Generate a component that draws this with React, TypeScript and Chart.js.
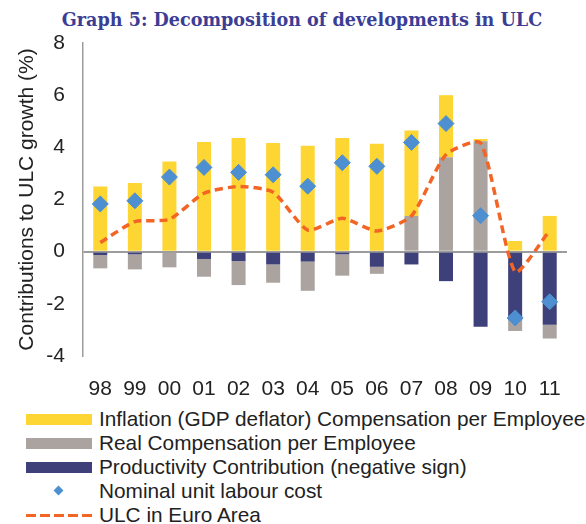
import React, { useEffect, useRef } from "react";
import { Chart, registerables } from "chart.js";

Chart.register(...registerables);

const years = ["98", "99", "00", "01", "02", "03", "04", "05", "06", "07", "08", "09", "10", "11"];
const inflation = [2.5, 2.63, 3.46, 4.2, 4.36, 4.17, 4.06, 4.36, 4.14, 3.28, 2.38, 0.09, 0.41, 1.37];
const realComp = [-0.51, -0.58, -0.6, -0.68, -0.92, -0.7, -1.12, -0.82, -0.27, 1.37, 3.62, 4.23, -0.41, -0.53];
const productivity = [-0.13, -0.1, 0, -0.28, -0.36, -0.49, -0.38, -0.1, -0.58, -0.49, -1.13, -2.88, -2.63, -2.8];
const nominalULC = [1.83, 1.95, 2.86, 3.23, 3.04, 2.95, 2.51, 3.41, 3.27, 4.19, 4.91, 1.38, -2.54, -1.92];
const euroAreaULC = [0.35, 1.15, 1.24, 2.24, 2.5, 2.28, 0.83, 1.28, 0.79, 1.37, 3.72, 4.17, -0.77, 0.81];
const yTicks = [8, 6, 4, 2, 0, -2, -4];

const YELLOW = "#fed634";
const GRAY = "#aaa39f";
const NAVY = "#3d4079";
const BLUE = "#4d8fd0";
const ORANGE = "#f26525";
const TEXT = "#222222";

const legendItems = [
  { label: "Inflation (GDP deflator) Compensation per Employee", kind: "box", color: YELLOW },
  { label: "Real Compensation per Employee", kind: "box", color: GRAY },
  { label: "Productivity Contribution (negative sign)", kind: "box", color: NAVY },
  { label: "Nominal unit labour cost", kind: "diamond", color: BLUE },
  { label: "ULC in Euro Area", kind: "dash", color: ORANGE },
];

export default function App() {
  const ref = useRef<HTMLCanvasElement | null>(null);

  useEffect(() => {
    document.body.style.margin = "0";
    const font = { family: "'Liberation Sans', Arial, sans-serif", size: 21 };
    const chart = new Chart(ref.current as HTMLCanvasElement, {
      type: "bar",
      data: {
        labels: years,
        datasets: [
          {
            type: "line",
            label: "Nominal unit labour cost",
            data: nominalULC,
            showLine: false,
            pointStyle: "rectRot",
            pointRadius: 8,
            pointBackgroundColor: BLUE,
            pointBorderColor: BLUE,
            borderColor: BLUE,
            backgroundColor: BLUE,
            stack: "nulc",
            order: 0,
          } as any,
          {
            type: "line",
            label: "ULC in Euro Area",
            data: euroAreaULC,
            borderColor: ORANGE,
            borderWidth: 3.5,
            borderDash: [8, 5],
            pointRadius: 0,
            tension: 0.2,
            fill: false,
            stack: "ulc",
            order: 1,
          } as any,
          {
            label: "Productivity Contribution (negative sign)",
            data: productivity,
            backgroundColor: NAVY,
            stack: "bars",
            order: 5,
          },
          {
            label: "Real Compensation per Employee",
            data: realComp,
            backgroundColor: GRAY,
            stack: "bars",
            order: 5,
          },
          {
            label: "Inflation (GDP deflator) Compensation per Employee",
            data: inflation,
            backgroundColor: YELLOW,
            stack: "bars",
            order: 5,
          },
        ],
      },
      options: {
        animation: false,
        responsive: false,
        maintainAspectRatio: false,
        datasets: {
          bar: { barPercentage: 0.405, categoryPercentage: 1 },
        },
        layout: { padding: { top: 43, right: 19, bottom: 5, left: 0 } },
        plugins: {
          legend: { display: false },
          tooltip: { enabled: false },
          title: { display: false },
        },
        scales: {
          x: {
            stacked: true,
            grid: { display: false },
            border: { display: false },
            ticks: { font, color: TEXT, padding: 13, maxRotation: 0 },
            afterFit: (s: any) => {
              s.height = 39;
            },
          },
          y: {
            stacked: true,
            min: -4,
            max: 8,
            z: 1,
            afterBuildTicks: (s: any) => {
              s.ticks = yTicks.map((v) => ({ value: v }));
            },
            afterFit: (s: any) => {
              s.width = 83;
            },
            grid: {
              drawTicks: false,
              color: (c: any) => (c.tick && c.tick.value === 0 ? "#9c9c9c" : "rgba(0,0,0,0)"),
              lineWidth: 2,
            },
            border: { display: true, color: "#9c9c9c", width: 1.5 },
            ticks: { font, color: TEXT, padding: 18 },
            title: {
              display: true,
              text: "Contributions to ULC growth (%)",
              font,
              color: TEXT,
              padding: { top: 15, bottom: 0 },
            },
          },
        },
      },
    });
    return () => chart.destroy();
  }, []);

  return (
    <div style={{ position: "relative", width: 586, height: 524, fontFamily: "'Liberation Sans', Arial, sans-serif" }}>
      <div
        style={{
          position: "absolute",
          left: 0,
          top: 9,
          width: 586,
          paddingLeft: 18,
          boxSizing: "border-box",
          textAlign: "center",
          fontFamily: "'DejaVu Serif', serif",
          fontWeight: "bold",
          fontSize: 17.6,
          color: "#3b3e94",
          whiteSpace: "nowrap",
        }}
      >
        Graph 5: Decomposition of developments in ULC
      </div>
      <canvas ref={ref} width={586} height={400} style={{ position: "absolute", left: 0, top: 0 }} />
      <div style={{ position: "absolute", left: 0, top: 407 }}>
        {legendItems.map((it) => (
          <div
            key={it.label}
            style={{ display: "flex", alignItems: "center", height: 24, fontSize: 20.8, color: TEXT, whiteSpace: "nowrap" }}
          >
            <div style={{ width: 66, marginLeft: 26, marginRight: 7, height: 11, position: "relative" }}>
              {it.kind === "box" && <div style={{ width: 66, height: 11, background: it.color }} />}
              {it.kind === "diamond" && (
                <div
                  style={{
                    position: "absolute",
                    left: 29,
                    top: 1.5,
                    width: 7,
                    height: 7,
                    background: it.color,
                    transform: "rotate(45deg)",
                  }}
                />
              )}
              {it.kind === "dash" && (
                <div
                  style={{
                    position: "absolute",
                    left: 0,
                    top: 4,
                    width: 66,
                    height: 3,
                    background: `repeating-linear-gradient(to right, ${it.color} 0 10px, transparent 10px 14px)`,
                  }}
                />
              )}
            </div>
            <span>{it.label}</span>
          </div>
        ))}
      </div>
    </div>
  );
}
